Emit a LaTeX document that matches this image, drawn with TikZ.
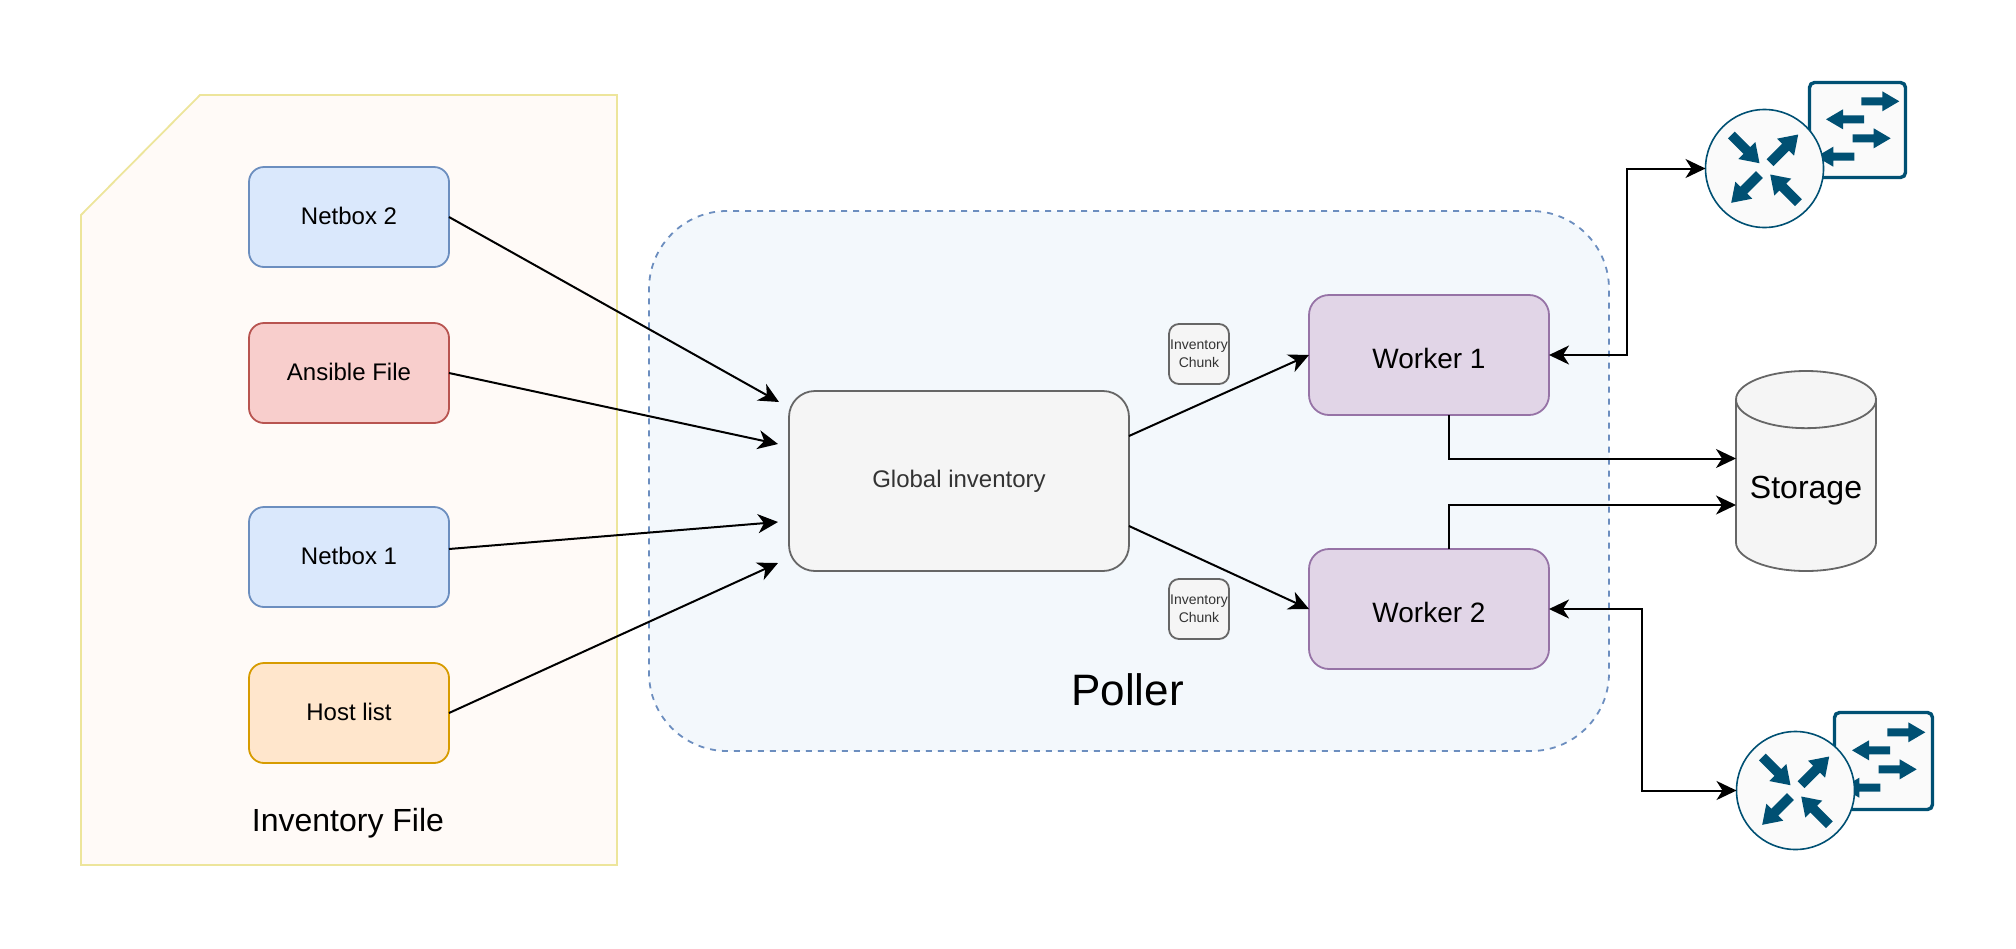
\documentclass[tikz,border=0pt]{standalone}
\usepackage{fontspec}
\usepackage{xcolor}
\setmainfont{Liberation Sans}
\usetikzlibrary{arrows.meta,shapes.geometric}
\definecolor{icon}{HTML}{005073}
\definecolor{filefill}{HTML}{FFFAF7}
\definecolor{fileline}{HTML}{EDE59B}
\definecolor{pollerfill}{HTML}{F3F8FC}
\definecolor{boxgray}{HTML}{666666}
\definecolor{fillgray}{HTML}{F5F5F5}
\newcommand{\iconarrow}[4][]{\fill[icon, shift={(#2,#3)}, rotate=#4, #1] (0,0) -- (-17,10) -- (-17,4) -- (-38,4) -- (-38,-4) -- (-17,-4) -- (-17,-10) -- cycle;}
\begin{document}
\begin{tikzpicture}[x=1pt, y=-1pt, node distance=156pt, inner sep=0pt, outer sep=0pt, line width=1.8pt,
	srcbox/.style = {draw, rounded corners=15pt, minimum width=200pt, minimum height=100pt, text depth=2.5pt, font=\fontsize{24}{28}\selectfont},
	workerbox/.style = {draw={rgb,255:red,150;green,115;blue,166}, fill={rgb,255:red,225;green,213;blue,231}, rounded corners=20pt, minimum width=240pt, minimum height=120pt, text height=28pt, font=\fontsize{28}{32}\selectfont},
	chunkbox/.style = {draw=boxgray, fill=fillgray, text=black!80, rounded corners=10pt, minimum size=60pt, align=center, font=\fontsize{14}{17.7}\selectfont},
	switchbox/.style = {draw=icon, fill=black!2, line width=3.4pt, rounded corners=5pt, minimum width=96pt, minimum height=95pt},
	routernode/.style = {draw=icon, fill=black!2, circle, line width=1.6pt, minimum size=118pt},
	arrow/.style = {line width=2pt, -{Stealth[length=20pt, width=19pt, inset=6pt]}},
	dblarrow/.style = {line width=2pt, {Stealth[length=20pt, width=19pt, inset=6pt]}-{Stealth[length=20pt, width=19pt, inset=6pt]}}]
	\useasboundingbox (0,0) rectangle (2016,948);

	% inventory file and poller backgrounds
	\draw[draw=fileline, fill=filefill] (200,95) -- (617,95) -- (617,865) -- (81,865) -- (81,215) -- cycle;
	\node[font=\fontsize{32}{38}\selectfont] (filetitle) at (348,823) {Inventory File};
	\node[draw={rgb,255:red,108;green,142;blue,191}, fill=pollerfill, dash pattern=on 6pt off 6pt, rounded corners=78pt, minimum width=960pt, minimum height=540pt] (poller) at (1129,481) {};
	\node[font=\fontsize{44}{50}\selectfont] (pollertitle) at (1127.5,690) {Poller};

	% sources
	\node[srcbox, draw={rgb,255:red,108;green,142;blue,191}, fill={rgb,255:red,218;green,232;blue,252}] (netbox2) at (349,217) {Netbox 2};
	\node[srcbox, draw={rgb,255:red,184;green,84;blue,80}, fill={rgb,255:red,248;green,206;blue,204}] (ansible) [below of=netbox2] {Ansible File};
	\node[srcbox, draw={rgb,255:red,108;green,142;blue,191}, fill={rgb,255:red,218;green,232;blue,252}] (netbox1) at (349,557) {Netbox 1};
	\node[srcbox, draw={rgb,255:red,215;green,155;blue,0}, fill={rgb,255:red,255;green,230;blue,204}] (hostlist) [below of=netbox1] {Host list};

	% poller content
	\node[draw=boxgray, fill=fillgray, text=black!80, rounded corners=26pt, minimum width=340pt, minimum height=180pt, font=\fontsize{24}{28}\selectfont] (global) at (959,481) {Global inventory};
	\node[workerbox] (worker1) at (1429,355) {Worker 1};
	\node[workerbox] (worker2) at (1429,609) {Worker 2};
	\node[chunkbox] (chunk1) at (1199,354) {Inventory\\Chunk};
	\node[chunkbox] (chunk2) at (1199,609) {Inventory\\Chunk};

	% storage
	\node[draw=boxgray, cylinder, anchor=shape center, shape border rotate=90, aspect=0.51, cylinder uses custom fill, cylinder body fill=fillgray, cylinder end fill=fillgray, minimum height=200pt, minimum width=140pt, text height=32pt, font=\fontsize{32}{36}\selectfont] (storage) at (1806,471) {Storage};

	% network devices
	\node[switchbox] (switch1) at (1857.5,130) {};
	\node[switchbox, minimum width=98pt, minimum height=97pt] (switch2) at (1883.5,761) {};
	\foreach \n in {1,2} {
		\foreach \tx/\ty/\a in {41.8/-28.7/0, -31.5/-10.7/180, 33.2/8.3/0, -41.2/26.7/180} {
			\begin{scope}[shift={(switch\n.center)}]
				\iconarrow{\tx}{\ty}{\a}
			\end{scope}
		}
	}
	\node[routernode] (router1) at (1764.5,168.5) {};
	\node[routernode] (router2) at (1795.5,790.5) {};
	\foreach \n in {1,2} {
		\foreach \tx/\ty/\a in {-5/-5.3/-45, 33.7/-34/45, -33.3/34.3/-135, 5.7/6/135} {
			\begin{scope}[shift={(router\n.center)}]
				\iconarrow[xscale=1.05, yscale=1.2]{\tx}{\ty}{\a}
			\end{scope}
		}
	}

	% connectors
	\coordinate (in1) at (779,402);
	\coordinate (in2) at (778,444);
	\coordinate (in3) at (778,522);
	\coordinate (in4) at (778,563);
	\draw[arrow] (netbox2.east) -- (in1);
	\draw[arrow] (ansible.east) -- (in2);
	\draw[arrow] ([yshift=8pt]netbox1.east) -- (in3);
	\draw[arrow] (hostlist.east) -- (in4);
	\draw[arrow] ([yshift=45pt]global.east) -- (worker1.west);
	\draw[arrow] ([yshift=-45pt]global.east) -- (worker2.west);
	\coordinate (bend1) at (1626.5,355);
	\coordinate (bend2) at (1642,609);
	\draw[dblarrow] (worker1.east) -- (bend1) |- (router1.west);
	\draw[dblarrow] (worker2.east) -- (bend2) |- (router2.west);
	\coordinate (store1) at (1736,458.5);
	\coordinate (store2) at (1736,505);
	\draw[arrow] ([xshift=20pt]worker1.south) |- (store1);
	\draw[arrow] ([xshift=20pt]worker2.north) |- (store2);
\end{tikzpicture}
\end{document}
